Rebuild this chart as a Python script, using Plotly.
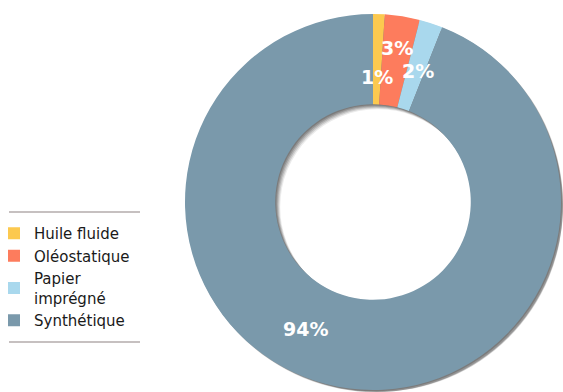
import math
import plotly.graph_objects as go

# Répartition des transformateurs par type d'isolant
labels = ["Huile fluide", "Oléostatique", "Papier<br>imprégné", "Synthétique"]
values = [1, 3, 2, 94]
colors = ["#fcc94f", "#fd7c5d", "#a9d8ed", "#7a99ab"]

W, H = 563, 392
CX, CY, R = 373, 202, 188   # centre / rayon de l'anneau en pixels
HOLE = 0.52
R_IN = HOLE * R


def domain(cx, cy, r):
    return dict(x=[max(0.0, (cx - r) / W), min(1.0, (cx + r) / W)],
                y=[max(0.0, (H - cy - r) / H), min(1.0, (H - cy + r) / H)])


fig = go.Figure()

# ombre portée douce sous l'anneau
for d, a in [(1, 0.16), (2, 0.16), (3, 0.14), (4, 0.12), (5, 0.08)]:
    rs = min(R, W - CX - d, H - CY - d)
    fig.add_trace(go.Pie(
        values=[1], labels=["ombre"], hole=R_IN / rs, sort=False,
        domain=domain(CX + d, CY + d, rs),
        marker=dict(colors=[f"rgba(0,0,0,{a})"], line=dict(width=0)),
        textinfo="none", hoverinfo="skip", showlegend=False,
    ))

fig.add_trace(go.Pie(
    labels=labels, values=values, hole=HOLE, sort=False,
    direction="clockwise", rotation=0,
    domain=domain(CX, CY, R),
    marker=dict(colors=colors, line=dict(width=0)),
    textinfo="none", hoverinfo="label+percent",
))

# étiquettes de pourcentage placées sur chaque secteur
label_radius = [125, 156, 139, 144]
label_shift = [0, 0, 1, 17]   # décalage angulaire en degrés
total = sum(values)
cum = 0
for v, rr, sh in zip(values, label_radius, label_shift):
    mid = (cum + v / 2) / total * 360 + sh
    cum += v
    x = CX + rr * math.sin(math.radians(mid))
    y = CY - rr * math.cos(math.radians(mid))
    fig.add_annotation(
        x=x / W, y=(H - y) / H, xref="paper", yref="paper",
        text=f"{round(v / total * 100)}%", showarrow=False,
        font=dict(family="DejaVu Sans", size=19, color="white", weight="bold"),
        xanchor="center", yanchor="middle",
    )

# filets au-dessus et au-dessous de la légende
for ly in [212, 342]:
    fig.add_shape(type="line", xref="paper", yref="paper",
                  x0=9 / W, x1=140 / W, y0=(H - ly) / H, y1=(H - ly) / H,
                  line=dict(color="#b3abab", width=1.5))

fig.update_layout(
    width=W, height=H,
    margin=dict(l=0, r=0, t=0, b=0, autoexpand=False),
    paper_bgcolor="white", plot_bgcolor="white",
    font=dict(family="DejaVu Sans", size=15, color="#1a1a1a"),
    legend=dict(x=-6 / W, y=(H - 217) / H, xanchor="left", yanchor="top",
                bgcolor="rgba(0,0,0,0)", traceorder="normal",
                font=dict(family="DejaVu Sans", size=15, color="#1a1a1a")),
)

fig.write_html("out.html")
